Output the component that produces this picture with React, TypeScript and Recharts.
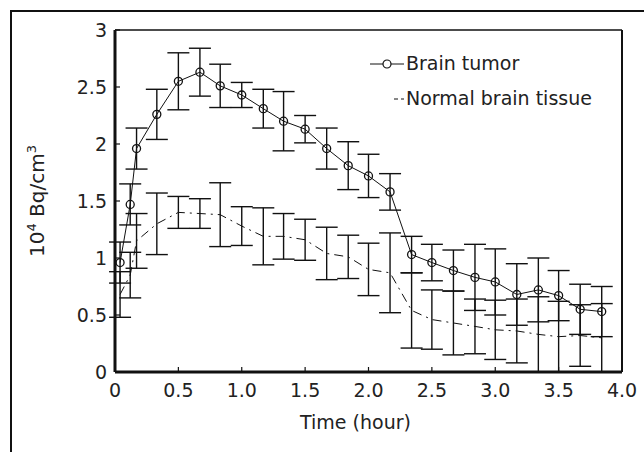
import { ErrorBar, Line, LineChart, XAxis, YAxis } from "recharts";

const hours = [0.04, 0.12, 0.17, 0.33, 0.5, 0.67, 0.83, 1.0, 1.17, 1.33, 1.5, 1.67, 1.84, 2.0, 2.17, 2.34, 2.5, 2.67, 2.84, 3.0, 3.17, 3.34, 3.5, 3.67, 3.84];
const tumor = [0.96, 1.47, 1.96, 2.26, 2.55, 2.63, 2.51, 2.43, 2.31, 2.2, 2.13, 1.96, 1.81, 1.72, 1.58, 1.03, 0.96, 0.89, 0.83, 0.79, 0.68, 0.72, 0.67, 0.55, 0.53];
const tumorErr = [0.18, 0.18, 0.18, 0.22, 0.25, 0.21, 0.19, 0.11, 0.17, 0.26, 0.12, 0.18, 0.21, 0.19, 0.16, 0.16, 0.16, 0.18, 0.29, 0.29, 0.27, 0.28, 0.22, 0.22, 0.22];
const normal = [0.68, 0.85, 1.15, 1.3, 1.4, 1.39, 1.38, 1.28, 1.19, 1.19, 1.16, 1.04, 1.01, 0.9, 0.87, 0.54, 0.46, 0.43, 0.4, 0.37, 0.36, 0.33, 0.31, 0.32, 0.3];
const normalErr = [0.2, 0.2, 0.24, 0.27, 0.14, 0.13, 0.28, 0.17, 0.25, 0.2, 0.18, 0.23, 0.19, 0.23, 0.35, 0.33, 0.26, 0.28, 0.24, 0.26, 0.28, 0.33, 0.31, 0.27, 0.3];

const xTicks = [0, 0.5, 1, 1.5, 2, 2.5, 3, 3.5, 4];
const yTicks = [0, 0.5, 1, 1.5, 2, 2.5, 3];

const rows = hours.map((t, i) => ({
  t,
  tumor: tumor[i],
  tumorErr: tumorErr[i],
  normal: normal[i],
  normalErr: normalErr[i],
}));

const font = "'DejaVu Sans', 'Liberation Sans', sans-serif";
const ink = "#111";
const textInk = "#222";

function LegendBox() {
  return (
    <div
      style={{
        position: "absolute",
        left: 370,
        top: 46,
        fontFamily: font,
        fontSize: 19,
        color: textInk,
        lineHeight: "35px",
      }}
    >
      <div style={{ display: "flex", alignItems: "center" }}>
        <svg width={36} height={20}>
          <line x1={0} y1={10} x2={34} y2={10} stroke={ink} strokeWidth={1} />
          <circle cx={17} cy={10} r={4} fill="#fff" stroke={ink} strokeWidth={1.2} />
        </svg>
        <span>Brain tumor</span>
      </div>
      <div style={{ display: "flex", alignItems: "center" }}>
        <svg width={36} height={20}>
          <line x1={24} y1={10} x2={34} y2={10} stroke={ink} strokeWidth={1} strokeDasharray="4 3" />
        </svg>
        <span>Normal brain tissue</span>
      </div>
    </div>
  );
}

function YLabel() {
  return (
    <text
      x={0}
      y={0}
      transform="translate(44 201) rotate(-90)"
      textAnchor="middle"
      fill={textInk}
      fontFamily={font}
      fontSize={20}
    >
      10
      <tspan fontSize={13} dy={-8}>4</tspan>
      <tspan dy={8}> Bq/cm</tspan>
      <tspan fontSize={13} dy={-8}>3</tspan>
    </text>
  );
}

export default function App() {
  const tickStyle = { fill: textInk, fontSize: 19, fontFamily: font };
  return (
    <div style={{ position: "fixed", left: 0, top: 0, width: 644, height: 452, overflow: "hidden", background: "#fff" }}>
      <div
        style={{
          position: "absolute",
          left: 10,
          top: 10,
          width: 660,
          height: 470,
          border: `2px solid ${ink}`,
          boxSizing: "border-box",
        }}
      />
      <div style={{ position: "absolute", left: 0, top: 0 }}>
        <LineChart width={644} height={452} data={rows} margin={{ top: 29, right: 21, left: 10, bottom: 0 }}>
          <XAxis
            xAxisId="b"
            type="number"
            dataKey="t"
            domain={[0, 4]}
            ticks={xTicks}
            tickFormatter={(v: number) => (v === 0 ? "0" : v.toFixed(1))}
            height={80}
            tickSize={-5}
            tickMargin={17}
            axisLine={{ stroke: ink, strokeWidth: 3 }}
            tickLine={{ stroke: ink, strokeWidth: 1.2 }}
            tick={tickStyle}
            label={{ value: "Time (hour)", position: "insideTop", offset: 44, dx: -13, fill: textInk, fontSize: 19, fontFamily: font }}
          />
          <XAxis
            xAxisId="t"
            orientation="top"
            type="number"
            dataKey="t"
            domain={[0, 4]}
            ticks={xTicks}
            height={1}
            tick={false}
            tickSize={-5}
            axisLine={{ stroke: ink, strokeWidth: 1.5 }}
            tickLine={{ stroke: ink, strokeWidth: 1.2 }}
          />
          <YAxis
            yAxisId="l"
            type="number"
            domain={[0, 3]}
            ticks={yTicks}
            width={105}
            tickSize={-5}
            tickMargin={13}
            axisLine={{ stroke: ink, strokeWidth: 3 }}
            tickLine={{ stroke: ink, strokeWidth: 1.2 }}
            tick={tickStyle}
            label={{ content: () => <YLabel /> }}
          />
          <YAxis
            yAxisId="r"
            orientation="right"
            type="number"
            domain={[0, 3]}
            ticks={yTicks}
            width={1}
            tick={false}
            tickSize={-5}
            axisLine={{ stroke: ink, strokeWidth: 2 }}
            tickLine={{ stroke: ink, strokeWidth: 1.2 }}
          />
          <Line
            xAxisId="b"
            yAxisId="l"
            type="linear"
            dataKey="normal"
            stroke={ink}
            strokeWidth={1}
            strokeDasharray="9 5 2 5"
            dot={false}
            isAnimationActive={false}
          >
            <ErrorBar dataKey="normalErr" width={11} stroke={ink} strokeWidth={1.4} direction="y" />
          </Line>
          <Line
            xAxisId="b"
            yAxisId="l"
            type="linear"
            dataKey="tumor"
            stroke={ink}
            strokeWidth={1}
            dot={{ r: 4, fill: "none", stroke: ink, strokeWidth: 1.3 }}
            isAnimationActive={false}
          >
            <ErrorBar dataKey="tumorErr" width={11} stroke={ink} strokeWidth={1.4} direction="y" />
          </Line>
        </LineChart>
      </div>
      <LegendBox />
    </div>
  );
}
